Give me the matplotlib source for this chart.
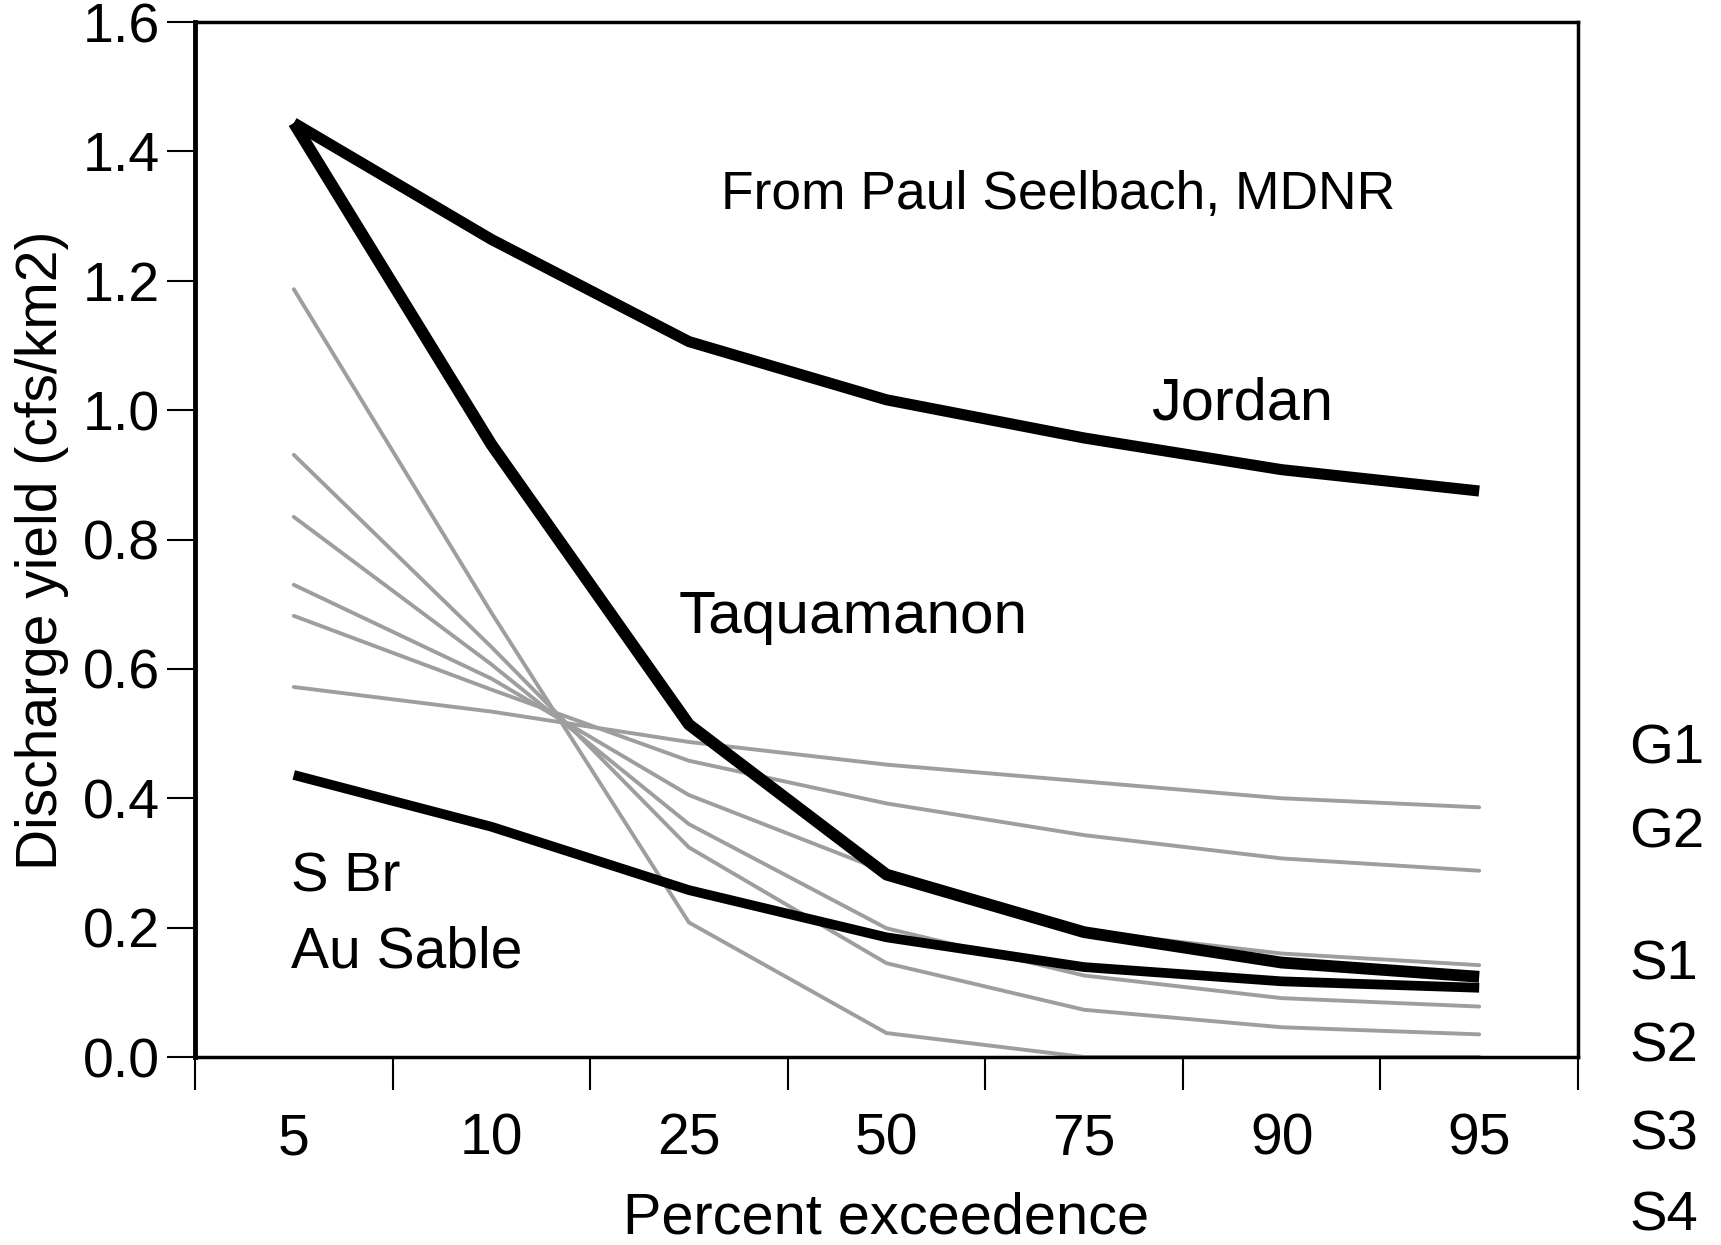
import matplotlib
matplotlib.use("Agg")
import matplotlib.pyplot as plt

plt.rcParams['font.family'] = ['Liberation Sans', 'DejaVu Sans']

# percent exceedence categories
exceedence = ['5', '10', '25', '50', '75', '90', '95']

# thick black lines (named rivers)
jordan = [1.444, 1.264, 1.106, 1.016, 0.957, 0.908, 0.875]
taquamanon = [1.444, 0.947, 0.514, 0.282, 0.193, 0.146, 0.124]
sbr_au_sable = [0.436, 0.356, 0.258, 0.185, 0.139, 0.117, 0.107]

# thin grey reference lines
g1 = [0.572, 0.534, 0.487, 0.452, 0.426, 0.400, 0.386]
g2 = [0.682, 0.568, 0.458, 0.392, 0.343, 0.307, 0.288]
s1 = [0.730, 0.585, 0.405, 0.286, 0.195, 0.160, 0.142]
s2 = [0.835, 0.607, 0.360, 0.199, 0.126, 0.091, 0.078]
s3 = [0.931, 0.634, 0.324, 0.145, 0.073, 0.046, 0.035]
s4 = [1.187, 0.687, 0.208, 0.037, 0.0, 0.0, 0.0]
grey_series = [g1, g2, s1, s2, s3, s4]
grey_names = ['G1', 'G2', 'S1', 'S2', 'S3', 'S4']
grey_label_y = [0.475, 0.345, 0.141, 0.014, -0.122, -0.246]

fig = plt.figure(figsize=(17.21, 12.45), dpi=100)
ax = fig.add_axes([0.1133, 0.1510, 0.8036, 0.8313])

x = [i + 0.5 for i in range(len(exceedence))]

for ys in grey_series:
    ax.plot(x, ys, color='#9e9e9e', linewidth=2.8, solid_capstyle='round',
            solid_joinstyle='round', zorder=2, clip_on=False)

ax.plot(x, sbr_au_sable, color='black', linewidth=7.0, solid_capstyle='butt', zorder=3)
ax.plot(x, taquamanon, color='black', linewidth=8.5, solid_capstyle='butt', zorder=3)
ax.plot(x, jordan, color='black', linewidth=8.0, solid_capstyle='butt', zorder=3)

ax.set_xlim(0, 7)
ax.set_ylim(0, 1.6)

# major x ticks at category boundaries, labels on minor ticks
ax.set_xticks(range(8))
ax.set_xticklabels([])
ax.set_xticks(x, minor=True)
ax.set_xticklabels(exceedence, minor=True)
ax.tick_params(axis='x', which='major', direction='out', length=24, width=1.5)
ax.tick_params(axis='x', which='minor', length=0, pad=40, labelsize=41)

ax.set_yticks([0.0, 0.2, 0.4, 0.6, 0.8, 1.0, 1.2, 1.4, 1.6])
ax.set_yticklabels(['0.0', '0.2', '0.4', '0.6', '0.8', '1.0', '1.2', '1.4', '1.6'])
ax.tick_params(axis='y', direction='out', length=20, width=1.5, pad=5, labelsize=40)

for side in ['top', 'right', 'bottom']:
    ax.spines[side].set_linewidth(2.5)
ax.spines['left'].set_linewidth(3.5)

ax.set_xlabel('Percent exceedence', fontsize=41.5, labelpad=18)
ax.set_ylabel('Discharge yield (cfs/km2)', fontsize=41, labelpad=6)
ax.yaxis.set_label_coords(-0.091, 0.49)

ax.text(2.66, 1.333, 'From Paul Seelbach, MDNR', fontsize=38.4, va='center')
ax.text(4.84, 1.009, 'Jordan', fontsize=42.8, va='center')
ax.text(2.45, 0.679, 'Taquamanon', fontsize=43.5, va='center')
ax.text(0.486, 0.277, 'S Br', fontsize=40.5, va='center')
ax.text(0.486, 0.161, 'Au Sable', fontsize=41, va='center')

for name, ly in zip(grey_names, grey_label_y):
    ax.text(7.26, ly, name, fontsize=40.5, va='center', clip_on=False)

fig.savefig('out.png', dpi=100)
